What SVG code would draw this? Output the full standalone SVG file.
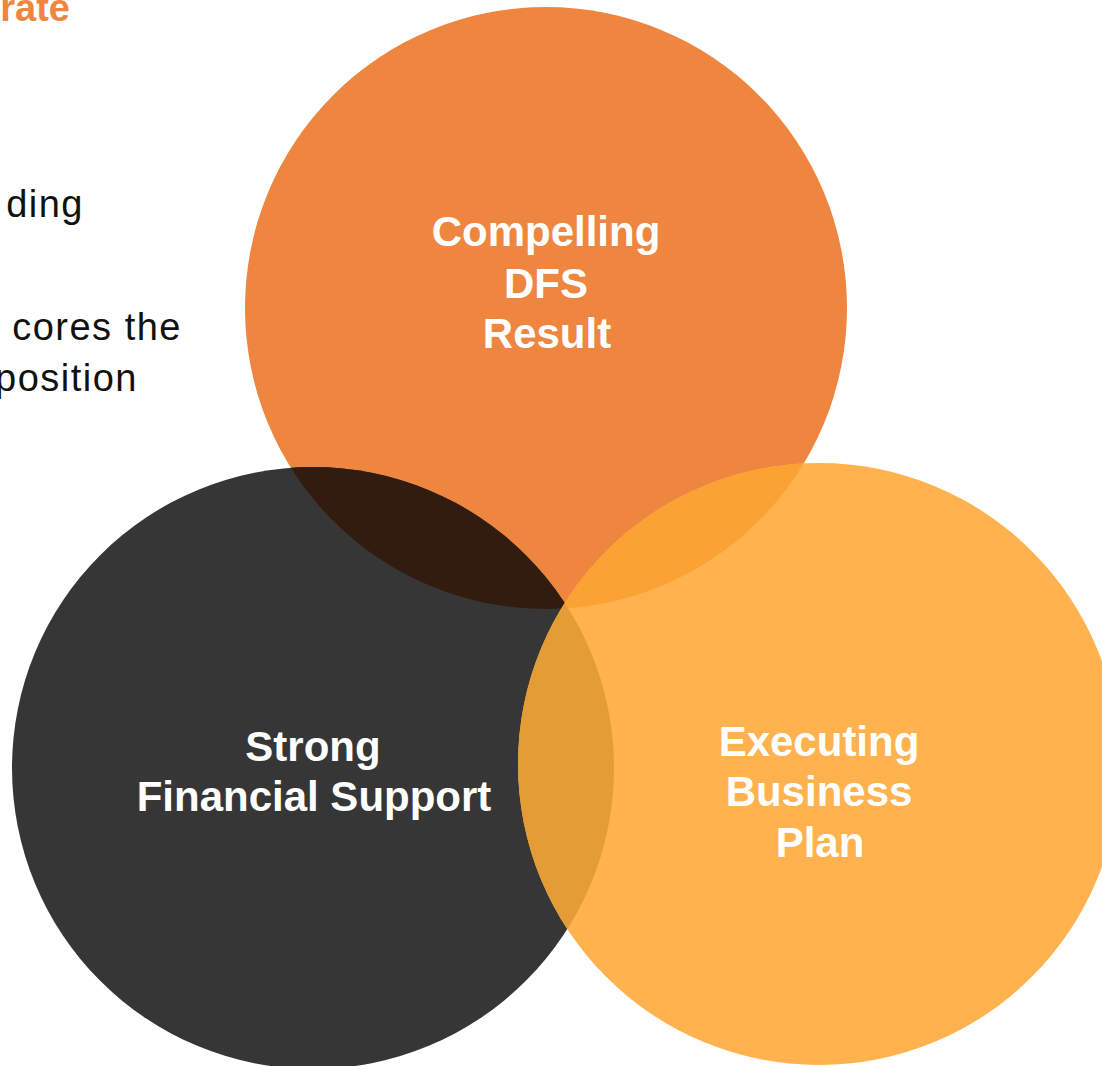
<svg xmlns="http://www.w3.org/2000/svg" width="1102" height="1066" viewBox="0 0 1102 1066">
<style>
.lbl{font-family:"Liberation Sans",Arial,sans-serif;font-weight:bold;font-size:42px;fill:#ffffff;text-anchor:middle}
.side{font-family:"Liberation Sans",Arial,sans-serif;font-size:38px;letter-spacing:1.5px;fill:#111111;text-anchor:end}
</style>
<defs>
<clipPath id="cO"><circle cx="546" cy="308" r="301"/></clipPath>
<clipPath id="cD"><circle cx="313" cy="768" r="301"/></clipPath>
<clipPath id="cL"><circle cx="819" cy="764" r="301"/></clipPath>
</defs>
<rect width="1102" height="1066" fill="#ffffff"/>
<g id="side-text">
<text x="70" y="21" font-family="Liberation Sans, Arial, sans-serif" font-weight="bold" font-size="38" fill="#EF8640" text-anchor="end">rate</text>
<text class="side" x="84" y="217">ding</text>
<text class="side" x="182" y="340">cores the</text>
<text class="side" x="138" y="391">position</text>
</g>
<g id="circle-compelling">
<circle cx="546" cy="308" r="301" fill="#EF8640"/>
</g>
<g id="circle-financial">
<circle cx="313" cy="768" r="301" fill="#363636"/>
</g>
<g id="circle-business">
<circle cx="819" cy="764" r="301" fill="#FFB24D"/>
</g>
<g id="overlaps">
<g clip-path="url(#cO)"><circle cx="313" cy="768" r="301" fill="#321C10"/></g>
<g clip-path="url(#cO)"><circle cx="819" cy="764" r="301" fill="#FBA235"/></g>
<g clip-path="url(#cD)"><circle cx="819" cy="764" r="301" fill="#E39C36"/></g>
</g>
<g id="connectors"/>
<g id="label-compelling">
<text class="lbl" x="546" y="246">Compelling</text>
<text class="lbl" x="546" y="298">DFS</text>
<text class="lbl" x="547" y="348">Result</text>
</g>
<g id="label-financial">
<text class="lbl" x="313" y="761">Strong</text>
<text class="lbl" x="314" y="811">Financial Support</text>
</g>
<g id="label-business">
<text class="lbl" x="819" y="756">Executing</text>
<text class="lbl" x="819" y="806">Business</text>
<text class="lbl" x="820" y="857">Plan</text>
</g>
</svg>
